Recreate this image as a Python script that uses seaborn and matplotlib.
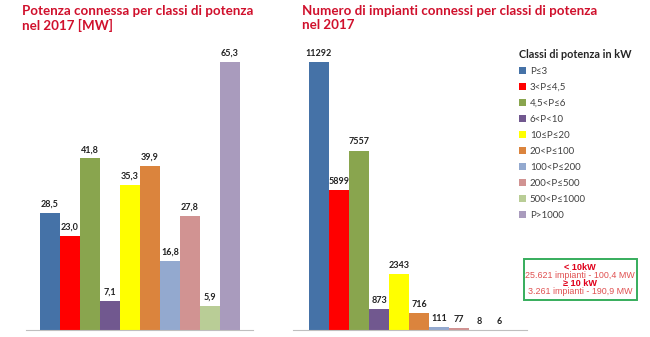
import matplotlib
matplotlib.use("Agg")
import matplotlib.pyplot as plt
from matplotlib.patches import Rectangle
import seaborn as sns

# Power classes (kW) and 2017 figures
classes = ["P≤3", "3<P≤4,5", "4,5<P≤6", "6<P<10", "10≤P≤20",
           "20<P≤100", "100<P≤200", "200<P≤500", "500<P≤1000", "P>1000"]
power_mw = [28.5, 23.0, 41.8, 7.1, 35.3, 39.9, 16.8, 27.8, 5.9, 65.3]
plants = [11292, 5899, 7557, 873, 2343, 716, 111, 77, 8, 6]
colors = ["#4572A7", "#FF0000", "#89A54E", "#71588F", "#FFFF00",
          "#DB843D", "#93A9CF", "#D19392", "#B9CD96", "#A99BBD"]

sns.set_theme(style="white")
plt.rcParams["font.family"] = ["Lato", "DejaVu Sans"]

W, H = 650, 337
fig = plt.figure(figsize=(W / 100, H / 100), dpi=100)


def px_axes(x0, x1, ytop, ybot):
    return fig.add_axes([x0 / W, 1 - ybot / H, (x1 - x0) / W, (ybot - ytop) / H])


ax1 = px_axes(26, 253, 50, 330)
ax2 = px_axes(293, 527, 50, 330)

palette = dict(zip(classes, colors))

sns.barplot(x=classes, y=power_mw, hue=classes, palette=palette, width=1.0,
            saturation=1, legend=False, linewidth=0, ax=ax1)
sns.barplot(x=classes, y=plants, hue=classes, palette=palette, width=1.0,
            saturation=1, legend=True, linewidth=0, ax=ax2)

ax1.set_xlim(-1.2, 10.15)
ax1.set_ylim(0, 65.3 * 280 / 268)
ax2.set_xlim(-1.3, 10.4)
ax2.set_ylim(0, 11292 * 280 / 268)

for ax in (ax1, ax2):
    ax.set_xticks([])
    ax.set_yticks([])
    ax.set_xlabel("")
    ax.set_ylabel("")
    for s in ("top", "left", "right"):
        ax.spines[s].set_visible(False)
    ax.spines["bottom"].set_color("#bfbfbf")
    ax.spines["bottom"].set_linewidth(0.8)
    ax.patch.set_alpha(0)

for i, v in enumerate(power_mw):
    ax1.annotate(f"{v:.1f}".replace(".", ","), (i, v), xytext=(0, 3),
                 textcoords="offset points", ha="center", va="bottom",
                 fontsize=6.5, fontweight="bold", color="#222222")
for i, v in enumerate(plants):
    ax2.annotate(f"{v}", (i, v), xytext=(0, 3),
                 textcoords="offset points", ha="center", va="bottom",
                 fontsize=6.5, fontweight="bold", color="#222222")

title_color = "#d0102c"
fig.text(22 / W, 1 - 5 / H, "Potenza connessa per classi di potenza\nnel 2017 [MW]",
         ha="left", va="top", fontsize=9.6, fontweight="bold", color=title_color,
         linespacing=1.2)
fig.text(302 / W, 1 - 5 / H, "Numero di impianti connessi per classi di potenza\nnel 2017",
         ha="left", va="top", fontsize=9.6, fontweight="bold", color=title_color,
         linespacing=1.2)

sns.move_legend(ax2, loc="upper left", bbox_to_anchor=(519 / W, 1 - 49 / H),
                bbox_transform=fig.transFigure, title="Classi di potenza in kW",
                frameon=False, fontsize=7, title_fontsize=7.8,
                handlelength=0.7, handleheight=0.7, handletextpad=0.4,
                labelspacing=0.72, borderaxespad=0, borderpad=0)
leg = ax2.get_legend()
leg.get_title().set_fontweight("bold")
leg._legend_box.align = "left"
for t in leg.get_texts():
    t.set_color("#404040")
for h in leg.legend_handles:
    h.set_linewidth(0)

# summary box
fig.patches.append(Rectangle((523.5 / W, 1 - 300 / H), 113 / W, 41.5 / H,
                             transform=fig.transFigure, fill=False,
                             edgecolor="#36ad5c", linewidth=1.4))
cx = 580 / W
box_font = ["Liberation Sans", "DejaVu Sans"]
fig.text(cx, 1 - 267 / H, "< 10kW", ha="center", va="center", fontsize=6.6,
         fontweight="bold", color="#e0001a", family=box_font)
fig.text(cx, 1 - 275 / H, "25.621 impianti - 100,4 MW", ha="center", va="center",
         fontsize=6.4, color="#e05050", family=box_font)
fig.text(cx, 1 - 283 / H, "≥ 10 kW", ha="center", va="center", fontsize=6.6,
         fontweight="bold", color="#e0001a", family=box_font)
fig.text(cx, 1 - 291 / H, "3.261 impianti - 190,9 MW", ha="center", va="center",
         fontsize=6.4, color="#e05050", family=box_font)

fig.savefig("out.png", dpi=100)
